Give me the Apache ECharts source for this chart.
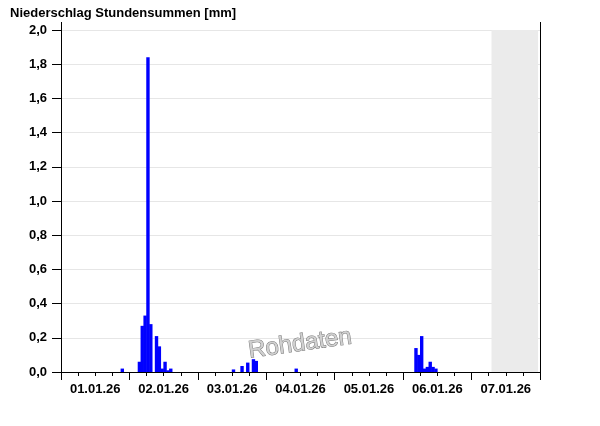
<!DOCTYPE html>
<html>
<head>
<meta charset="utf-8">
<title>Niederschlag Stundensummen</title>
<script src="https://cdn.jsdelivr.net/npm/echarts@6/dist/echarts.min.js"></script>
<style>
  html, body { margin: 0; padding: 0; background: #fff; }
  #chart { width: 600px; height: 426px; }
</style>
</head>
<body>
<div id="chart"></div>
<script>
// day labels under the x axis (one per day, centered)
const dayLabels = ['01.01.26', '02.01.26', '03.01.26', '04.01.26', '05.01.26', '06.01.26', '07.01.26']
// hours (counted from 01.01.26 00:00) that had rain, and the hourly sums in mm
const rainHours = [21, 27, 28, 29, 30, 31, 33, 34, 35, 36, 37, 38, 60, 63, 65, 67, 68, 82, 124, 125, 126, 127, 128, 129, 130, 131]
const rainValues = [0.02, 0.06, 0.27, 0.33, 1.84, 0.28, 0.21, 0.15, 0.02, 0.06, 0.01, 0.02, 0.015, 0.035, 0.055, 0.075, 0.065, 0.02, 0.14, 0.10, 0.21, 0.02, 0.03, 0.06, 0.03, 0.02]
// period without data yet (hours), drawn grey
const noDataRange = [151, 167.3]
const yTicks = { min: 0, max: 2, interval: 0.2 }

const HOURS = dayLabels.length * 24
const font = "'Liberation Sans', Arial, sans-serif"

// hourly categories + full series (empty where nothing fell)
const hourCats = []
const hourData = []
for (let h = 0; h < HOURS; h++) {
  hourCats.push(String(h))
  hourData.push('-')
}
rainHours.forEach((h, i) => {
  hourData[h] = rainValues[i]
})

const grid = { left: 61, right: 60, top: 30, bottom: 54 }
const plotRight = 600 - grid.right

const myChart = echarts.init(document.getElementById('chart'), null, { renderer: 'canvas' })
myChart.setOption({
  animation: false,
  backgroundColor: '#fff',
  textStyle: { fontFamily: font },
  title: {
    text: 'Niederschlag Stundensummen [mm]',
    left: 5,
    top: 2,
    textStyle: { fontSize: 13, fontWeight: 'bold', color: '#000', fontFamily: font }
  },
  grid: grid,
  xAxis: [
    {
      // time axis in hours: ticks every day, minor every 6h
      type: 'value',
      position: 'bottom',
      min: 0,
      max: HOURS,
      interval: 24,
      axisLine: { lineStyle: { color: '#000', width: 1 } },
      axisTick: { length: 8, lineStyle: { color: '#000' } },
      minorTick: { show: true, splitNumber: 4, length: 4, lineStyle: { color: '#000' } },
      axisLabel: { show: false },
      splitLine: { show: false }
    },
    {
      // day names
      type: 'category',
      position: 'bottom',
      data: dayLabels,
      boundaryGap: true,
      axisLine: { show: false },
      axisTick: { show: false },
      axisLabel: { margin: 11, fontSize: 13, fontWeight: 'bold', color: '#000', fontFamily: font }
    },
    {
      // hourly slots for the bars
      type: 'category',
      position: 'bottom',
      data: hourCats,
      boundaryGap: true,
      show: false
    }
  ],
  yAxis: [
    {
      type: 'value',
      position: 'left',
      min: yTicks.min,
      max: yTicks.max,
      interval: yTicks.interval,
      axisLine: { show: true, lineStyle: { color: '#000', width: 1 } },
      axisTick: { show: true, length: 9, lineStyle: { color: '#000' } },
      axisLabel: {
        margin: 14,
        fontSize: 13,
        fontWeight: 'bold',
        color: '#000',
        fontFamily: font,
        formatter: v => v.toFixed(1).replace('.', ',')
      },
      splitLine: { lineStyle: { color: '#e6e6e6', width: 1 } }
    },
    {
      type: 'value',
      position: 'right',
      min: yTicks.min,
      max: yTicks.max,
      axisLine: { show: true, lineStyle: { color: '#000', width: 1 } },
      axisTick: { show: false },
      axisLabel: { show: false },
      splitLine: { show: false }
    }
  ],
  series: [
    {
      name: 'noData',
      type: 'line',
      xAxisIndex: 0,
      yAxisIndex: 0,
      data: [],
      silent: true,
      markArea: {
        silent: true,
        itemStyle: { color: '#ebebeb' },
        data: [[{ xAxis: noDataRange[0] }, { xAxis: noDataRange[1] }]]
      }
    },
    {
      name: 'Niederschlag',
      type: 'bar',
      xAxisIndex: 2,
      yAxisIndex: 0,
      data: hourData,
      barWidth: 3.4,
      itemStyle: { color: '#0000ff' }
    }
  ],
  graphic: [
    // axis lines reach a bit above the 2,0 line
    { type: 'line', shape: { x1: grid.left + 0.5, y1: 22, x2: grid.left + 0.5, y2: grid.top }, style: { stroke: '#000', lineWidth: 1 } },
    { type: 'line', shape: { x1: plotRight + 0.5, y1: 22, x2: plotRight + 0.5, y2: grid.top }, style: { stroke: '#000', lineWidth: 1 } },
    // watermark
    {
      type: 'text',
      x: 300,
      y: 344,
      rotation: 0.14,
      style: {
        text: 'Rohdaten',
        x: 0,
        y: 0,
        align: 'center',
        verticalAlign: 'middle',
        font: "24px 'Liberation Sans', Arial, sans-serif",
        fill: '#d0d0d0',
        stroke: '#7a7a7a',
        lineWidth: 1
      },
      z: 100
    }
  ]
})
</script>
</body>
</html>
